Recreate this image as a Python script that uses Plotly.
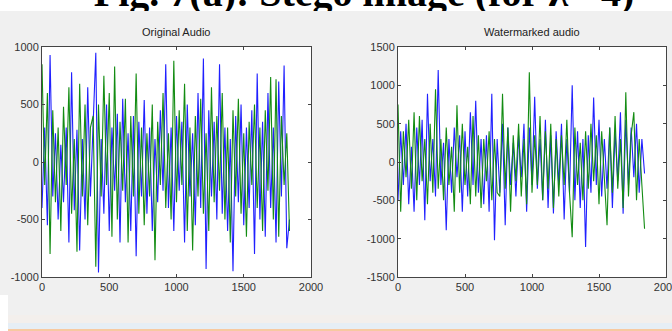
import plotly.graph_objects as go

# sample positions (every 20 samples)
x_samples = list(range(0, 1860, 20))

orig_blue = [-400, 300, -550, 930, -300, 250, -500, 150, -350, 300,
             -700, 780, -420, 280, -770, 200, -500, 650, -300, 350,
             950, -960, 200, -450, 500, -600, 300, -250, 420, -700,
             550, -350, 250, -600, 400, -820, 350, -300, 540, -450,
             300, -600, 200, -350, 450, -250, 850, -400, 300, -600,
             400, -250, 350, -700, 500, -300, 250, -550, 600, -400,
             900, -930, 450, -300, 350, -500, 850, -450, 300, -600,
             200, -950, 400, -350, 500, -550, 300, -400, 450, -800,
             770, -500, 350, -650, 600, -400, 300, -700, 700, -300,
             840, -750, -500]

orig_green = [850, -200, 600, -800, 450, -350, 300, -600, 480, -200,
              650, -450, 200, -780, 680, -300, 500, -550, 300, 400,
              -910, 500, -300, 750, -200, 600, -650, 830, -500, 350,
              -250, 550, -700, 400, -300, 770, -450, 300, -550, 250,
              -300, 500, -855, 350, -200, 600, -400, 250, -500, 880,
              -350, 450, -200, 680, -600, 300, -770, 400, -300, 550,
              -450, 250, -600, 650, -350, 400, -250, 600, -500, 300,
              -700, 450, -300, 550, -450, 250, -650, 350, -200, 500,
              -400, 300, -600, 450, -250, 740, -500, 720, -650, 400,
              -200, 250, -600]

wm_blue = [-500, 400, -300, 500, -550, 200, -650, 450, -300, 550,
           -760, 890, -250, 300, -450, 1200, -300, 250, -890, 300,
           -400, 450, -200, 350, -650, 400, -450, 650, -300, 800,
           -400, 300, -550, 350, -650, 890, -1020, 300, -400, 500,
           -825, 450, -300, 250, -450, 350, -200, 500, -650, 450,
           -300, 850, -350, 300, -500, 550, -600, 350, -670, 400,
           -300, 500, -750, 300, -400, 1000, -500, 400, -600, 300,
           -1110, 350, -400, 840, -300, 550, -450, 300, -350, 450,
           -600, 400, -250, 650, -675, 550, -300, 450, -200, 500,
           -400, 300, -150]

wm_green = [750, -650, 400, -200, 550, -350, 650, -500, 600, -250,
            300, -550, 500, -400, 950, -350, 300, -500, 450, -300,
            200, -650, 740, -400, 500, -300, 200, -550, 600, -450,
            350, -600, 300, -250, 400, -500, 300, -400, -450, 890,
            -350, 450, -650, 350, -250, 500, -450, 300, -550, 1170,
            -400, 350, -300, 600, -500, 400, -350, 500, -600, 300,
            -450, 350, -300, 550, -400, -980, 450, -300, 250, -500,
            400, -350, 500, -250, 350, -550, 400, -300, -825, 450,
            -400, 600, -350, 300, -600, 910, -450, 350, 650, -500,
            300, -300, -870]

titles = ["Original Audio", "Watermarked audio"]
caption = "<b>Fig. 7(a): Stego image (for \u03bb =4)</b>"
x_ticks = [0, 500, 1000, 1500, 2000]
y_ticks_left = [-1000, -500, 0, 500, 1000]
y_ticks_right = [-1500, -1000, -500, 0, 500, 1000, 1500]


def labels(vals):
    return [str(v) for v in vals]


W, H = 672, 331
BLUE = "#2020ff"
GREEN = "#138c13"
LW = 1.1

fig = go.Figure()
fig.add_trace(go.Scatter(x=x_samples, y=orig_blue, mode="lines",
                         line=dict(color=BLUE, width=LW), xaxis="x", yaxis="y"))
fig.add_trace(go.Scatter(x=x_samples, y=orig_green, mode="lines",
                         line=dict(color=GREEN, width=LW), xaxis="x", yaxis="y"))
fig.add_trace(go.Scatter(x=x_samples, y=wm_blue, mode="lines",
                         line=dict(color=BLUE, width=LW), xaxis="x2", yaxis="y2"))
fig.add_trace(go.Scatter(x=x_samples, y=wm_green, mode="lines",
                         line=dict(color=GREEN, width=LW), xaxis="x2", yaxis="y2"))

# cropped caption, clipped to the white strip at the top
fig.add_trace(go.Scatter(x=[364], y=[15], mode="text", text=[caption],
                         textposition="middle center", cliponaxis=True,
                         textfont=dict(family="Liberation Serif", size=40, color="black"),
                         xaxis="x3", yaxis="y3", hoverinfo="skip"))

ybot = (H - 277) / H
ytop = (H - 47) / H
dom1 = [42 / W, 311 / W]
dom2 = [398 / W, 666 / W]

axis_common = dict(showline=True, linecolor="#444", linewidth=1, mirror="allticks",
                   ticks="inside", ticklen=3, tickcolor="#444", showgrid=False,
                   zeroline=False, automargin=False, ticklabeloverflow="allow",
                   tickfont=dict(family="Liberation Sans Narrow, Arial", size=11, color="#333"))

hidden = dict(visible=False, showgrid=False, zeroline=False, automargin=False, fixedrange=True)

fig.update_layout(
    width=W, height=H, margin=dict(l=0, r=0, t=0, b=0),
    paper_bgcolor="#f0f0f0", plot_bgcolor="white", showlegend=False,
    xaxis=dict(domain=dom1, anchor="y", range=[0, 2000], tickvals=x_ticks,
               ticktext=labels(x_ticks), **axis_common),
    yaxis=dict(domain=[ybot, ytop], anchor="x", range=[-1000, 1000], tickvals=y_ticks_left,
               ticktext=labels(y_ticks_left), **axis_common),
    xaxis2=dict(domain=dom2, anchor="y2", range=[0, 2000], tickvals=x_ticks,
                ticktext=labels(x_ticks), **axis_common),
    yaxis2=dict(domain=[ybot, ytop], anchor="x2", range=[-1500, 1500], tickvals=y_ticks_right,
                ticktext=labels(y_ticks_right), **axis_common),
    xaxis3=dict(domain=[0, 1], anchor="y3", range=[0, W], **hidden),
    yaxis3=dict(domain=[(H - 11) / H, 1], anchor="x3", range=[0, 11], **hidden),
)

# subplot titles
for dom, t in zip([dom1, dom2], titles):
    fig.add_annotation(x=(dom[0] + dom[1]) / 2, y=(H - 32) / H, xref="paper", yref="paper",
                       text=t, showarrow=False, xanchor="center", yanchor="middle",
                       font=dict(family="Liberation Sans Narrow, Arial", size=11, color="#222"))

# bottom bands
fig.add_shape(type="rect", xref="paper", yref="paper", x0=8 / W, x1=1, y0=3 / H, y1=16 / H,
              fillcolor="#f3efec", line=dict(width=0), layer="below")
fig.add_shape(type="rect", xref="paper", yref="paper", x0=8 / W, x1=1, y0=2 / H, y1=8 / H,
              fillcolor="#e6eef5", line=dict(width=0), layer="below")
fig.add_shape(type="rect", xref="paper", yref="paper", x0=8 / W, x1=1, y0=0, y1=2 / H,
              fillcolor="#f7c9a0", line=dict(width=0), layer="below")
fig.add_shape(type="rect", xref="paper", yref="paper", x0=0, x1=8 / W, y0=0, y1=36 / H,
              fillcolor="white", line=dict(width=0), layer="below")

fig.write_html("out.html", config={"displayModeBar": False},
               post_script="document.body.style.margin='0';document.body.style.overflow='hidden';")
